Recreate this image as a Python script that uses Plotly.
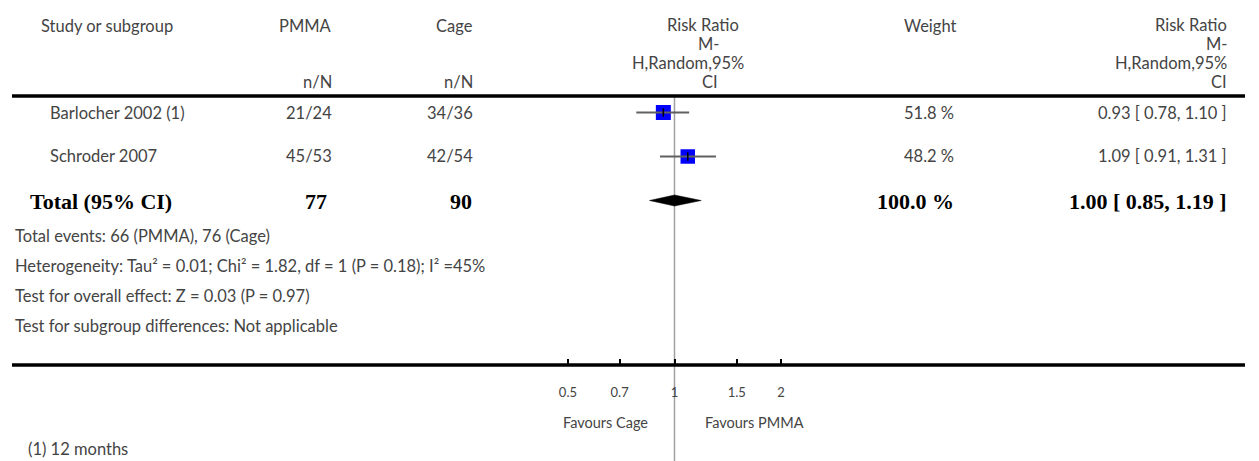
import numpy as np
import plotly.graph_objects as go

# ---- data -------------------------------------------------------------
studies = ["Barlocher 2002 (1)", "Schroder 2007"]
pmma_events = [21, 45]
pmma_total = [24, 53]
cage_events = [34, 42]
cage_total = [36, 54]
weights = [51.8, 48.2]
rr = [0.93, 1.09]
rr_lo = [0.78, 0.91]
rr_hi = [1.10, 1.31]

total_pmma = 77
total_cage = 90
total_weight = 100.0
total_rr = 1.00
total_lo = 0.85
total_hi = 1.19

tick_vals = [0.5, 0.7, 1, 1.5, 2]
tick_text = ["0.5", "0.7", "1", "1.5", "2"]

footer_lines = [
    "Total events: 66 (PMMA), 76 (Cage)",
    "Heterogeneity: Tau² = 0.01; Chi² = 1.82, df = 1 (P = 0.18); I² =45%",
    "Test for overall effect: Z = 0.03 (P = 0.97)",
    "Test for subgroup differences: Not applicable",
]
footnote = "(1) 12 months"

# ---- geometry ---------------------------------------------------------
W, H = 1259, 461
ROW0, ROW_STEP = 112.5, 44.0          # pixel centre of first row, row spacing
PX_PER_DECADE = 354.0
X_NULL_PX = 674.5                      # pixel position of RR = 1

TXT = "#444444"
SANS = "Lato, 'Open Sans', sans-serif"
SERIF = "'Liberation Serif', 'DejaVu Serif', serif"
FS = 16.5
FS_BOLD = 22

COL_PMMA = 334      # right edges of the text columns
COL_CAGE = 475
COL_WEIGHT = 956
COL_RR = 1229


def px(xp):
    return xp / W


def py(yp):
    return 1 - yp / H


fig = go.Figure()

# study squares, whiskers and centre ticks
rows = list(range(len(studies)))
sizes = [15 * np.sqrt(w / max(weights)) for w in weights]
fig.add_trace(go.Scatter(
    x=rr, y=rows, mode="markers",
    marker=dict(symbol="square", size=sizes, color="#0000ff", opacity=1,
                line=dict(width=0)),
    hoverinfo="skip", showlegend=False))
for i in rows:
    fig.add_trace(go.Scatter(
        x=[rr_lo[i], rr_hi[i]], y=[i, i], mode="lines",
        line=dict(color="#606060", width=2), hoverinfo="skip", showlegend=False))
fig.add_trace(go.Scatter(
    x=rr, y=rows, mode="markers",
    marker=dict(symbol="line-ns", size=6, line=dict(width=1.5, color="#000000")),
    hoverinfo="skip", showlegend=False))

# pooled diamond
t_row = len(studies)
dh = 5.5 / ROW_STEP
fig.add_trace(go.Scatter(
    x=[total_lo, total_rr, total_hi, total_rr, total_lo],
    y=[t_row, t_row - dh, t_row, t_row + dh, t_row],
    mode="lines", fill="toself", fillcolor="#000000",
    line=dict(color="#000000", width=0.5), hoverinfo="skip", showlegend=False))

# ---- axes -------------------------------------------------------------
xmin = -X_NULL_PX / PX_PER_DECADE
xmax = (W - X_NULL_PX) / PX_PER_DECADE
ymax = (H - ROW0) / ROW_STEP
ymin = -ROW0 / ROW_STEP

fig.update_layout(
    width=W, height=H,
    margin=dict(l=0, r=0, t=0, b=0),
    paper_bgcolor="white", plot_bgcolor="white",
    xaxis=dict(type="log", range=[xmin, xmax], domain=[0, 1],
               anchor="free", position=py(365),
               showgrid=False, zeroline=False, showline=False,
               ticks="inside", ticklen=6, tickwidth=2, tickcolor="#000000",
               tickvals=tick_vals, ticktext=tick_text,
               tickfont=dict(family=SANS, size=13, color=TXT),
               ticklabelstandoff=18),
    yaxis=dict(range=[ymax, ymin], domain=[0, 1], visible=False,
               showgrid=False, zeroline=False),
)

shapes = []
# null line
shapes.append(dict(type="line", xref="x", yref="paper", x0=1, x1=1,
                   y0=0, y1=py(97), line=dict(color="#a0a0a0", width=1.5),
                   layer="below"))
# header rule and axis rule
shapes.append(dict(type="line", xref="paper", yref="paper", x0=px(12), x1=px(1245),
                   y0=py(96), y1=py(96), line=dict(color="#000000", width=3.5)))
shapes.append(dict(type="line", xref="paper", yref="paper", x0=px(12), x1=px(1245),
                   y0=py(365), y1=py(365), line=dict(color="#000000", width=3.5)))
fig.update_layout(shapes=shapes)

ann = []


def text(s, x, y, anchor="left", size=FS, family=SANS, color=TXT):
    ann.append(dict(text=s, x=px(x), y=py(y), xref="paper", yref="paper",
                    xanchor=anchor, yanchor="middle", showarrow=False,
                    font=dict(family=family, size=size, color=color)))


# column headers
text("Study or subgroup", 39, 26)
text("PMMA", COL_PMMA, 26, "right")
text("Cage", COL_CAGE, 26, "right")
text("n/N", COL_PMMA, 82, "right")
text("n/N", COL_CAGE, 82, "right")
mid_hdr = [("Risk Ratio", 703, 25), ("M-", 709, 44), ("H,Random,95%", 688, 63), ("CI", 710, 82)]
for s, x, y in mid_hdr:
    text(s, x, y, "center")
text("Weight", COL_WEIGHT + 2, 26, "right")
right_hdr = [("Risk Ratio", 25), ("M-", 44), ("H,Random,95%", 63), ("CI", 82)]
for s, y in right_hdr:
    text(s, COL_RR, y, "right")

# study rows
for i in rows:
    y = ROW0 + ROW_STEP * i
    text(studies[i], 48, y)
    text(f"{pmma_events[i]}/{pmma_total[i]}", COL_PMMA, y, "right")
    text(f"{cage_events[i]}/{cage_total[i]}", COL_CAGE, y, "right")
    text(f"{weights[i]:.1f} %", COL_WEIGHT, y, "right")
    text(f"{rr[i]:.2f} [ {rr_lo[i]:.2f}, {rr_hi[i]:.2f} ]", COL_RR, y, "right")

# total row
yt = ROW0 + ROW_STEP * t_row + 1
text("<b>Total (95% CI)</b>", 28, yt, size=FS_BOLD, family=SERIF, color="#000000")
text(f"<b>{total_pmma}</b>", COL_PMMA - 5, yt, "right", size=FS_BOLD, family=SERIF, color="#000000")
text(f"<b>{total_cage}</b>", COL_CAGE - 1, yt, "right", size=FS_BOLD, family=SERIF, color="#000000")
text(f"<b>{total_weight:.1f} %</b>", COL_WEIGHT, yt, "right", size=FS_BOLD, family=SERIF, color="#000000")
text(f"<b>{total_rr:.2f} [ {total_lo:.2f}, {total_hi:.2f} ]</b>", COL_RR, yt, "right",
     size=FS_BOLD, family=SERIF, color="#000000")

# summary statistics
for k, s in enumerate(footer_lines):
    text(s, 13, 236 + 30 * k)

# axis captions and footnote
text("Favours Cage", 605, 422, "center", size=14.5)
text("Favours PMMA", 754, 422, "center", size=14.5)
text(footnote, 26, 449)

fig.update_layout(annotations=ann)
fig.write_html("out.html")
